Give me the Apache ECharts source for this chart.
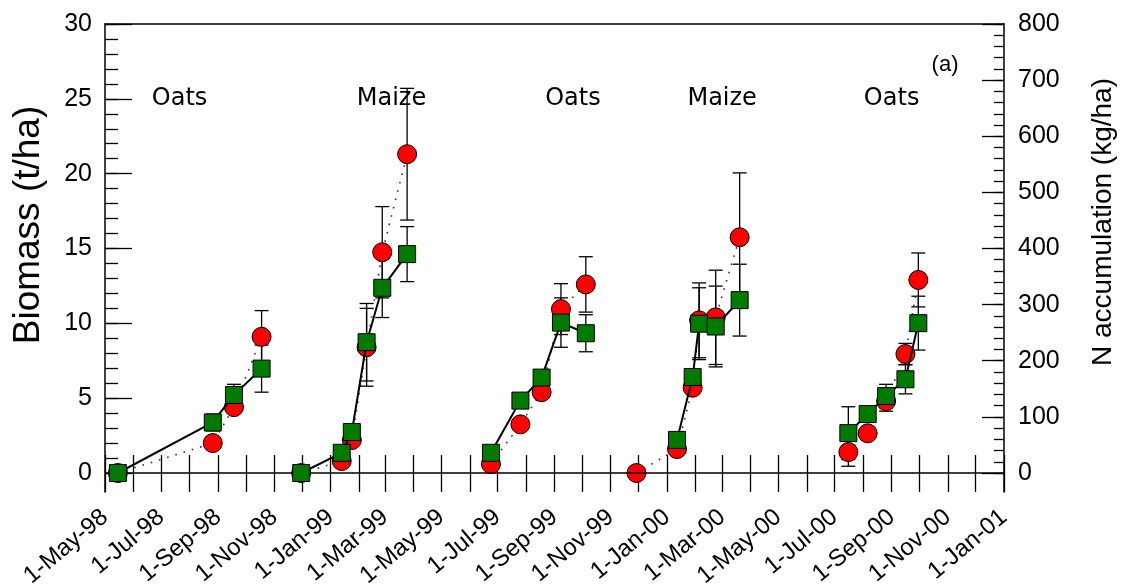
<!DOCTYPE html>
<html>
<head>
<meta charset="utf-8">
<script src="https://cdn.jsdelivr.net/npm/echarts@6/dist/echarts.min.js"></script>
<style>html,body{margin:0;padding:0;background:#fff;}#c{width:1123px;height:586px;}</style>
</head>
<body>
<div id="c"></div>
<script>
// ---- data ----
const seasons = ['Oats 98', 'Maize 98/99', 'Oats 99', 'Maize 99/00', 'Oats 00'];
// sampling dates per season
const datesS1 = ['1998-05-15', '1998-08-26', '1998-09-18', '1998-10-18'];
const datesS2 = ['1998-11-30', '1999-01-13', '1999-01-24', '1999-02-09', '1999-02-26', '1999-03-25'];
const datesS3 = ['1999-06-24', '1999-07-26', '1999-08-18', '1999-09-08', '1999-10-05'];
const datesS4 = ['1999-11-29', '2000-01-12', '2000-01-29', '2000-02-05', '2000-02-23', '2000-03-20'];
const datesS5 = ['2000-07-16', '2000-08-06', '2000-08-26', '2000-09-16', '2000-09-30'];
// Biomass (t/ha), red circles
const biomassS1 = [0, 2.0, 4.4, 9.1];
const biomassS2 = [0, 0.8, 2.2, 8.4, 14.75, 21.3];
const biomassS3 = [0.6, 3.25, 5.4, 10.95, 12.6];
const biomassS4 = [0, 1.6, 5.7, 10.2, 10.4, 15.75];
const biomassS5 = [1.4, 2.65, 4.8, 7.95, 12.9];
const biomassErrS1 = [0, 0, 0, 1.75];
const biomassErrS2 = [0, 0, 0, 2.6, 3.05, 4.4];
const biomassErrS3 = [0, 0, 0, 1.7, 1.85];
const biomassErrS4 = [0, 0, 0, 2.5, 3.15, 4.3];
const biomassErrS5 = [0.95, 0, 0.67, 0.71, 1.8];
// N accumulation (kg/ha), green squares (null = no sample)
const nAccS1 = [0, 90, 139, 186];
const nAccS2 = [0, 36, 73, 233, 330, 390];
const nAccS3 = [36, 129, 170, 268, 249];
const nAccS4 = [null, 59, 171, 266, 261, 308];
const nAccS5 = [71, 105, 137, 167, 267];
const nAccErrS1 = [0, 15, 19, 42];
const nAccErrS2 = [0, 0, 0, 69, 53, 49];
const nAccErrS3 = [0, 0, 0, 44, 33];
const nAccErrS4 = [0, 0, 0, 64, 72, 64];
const nAccErrS5 = [47, 0, 21, 26, 48];
// crop annotations
const cropNames = ['Oats', 'Maize', 'Oats', 'Maize', 'Oats'];
const cropLabelDates = ['1998-07-21', '1999-03-08', '1999-09-21', '2000-03-01', '2000-09-01'];
const cropLabelY = 25;
const panelLabel = '(a)';
const panelLabelDate = '2000-10-29';
const panelLabelY = 27.25;
// axes
const xMinDate = '1998-05-01';
const xMaxDate = '2001-01-01';
const xTickLabels = ['1-May-98','1-Jul-98','1-Sep-98','1-Nov-98','1-Jan-99','1-Mar-99','1-May-99','1-Jul-99','1-Sep-99','1-Nov-99','1-Jan-00','1-Mar-00','1-May-00','1-Jul-00','1-Sep-00','1-Nov-00','1-Jan-01'];
const leftTicks = [0, 5, 10, 15, 20, 25, 30];
const rightTicks = [0, 100, 200, 300, 400, 500, 600, 700, 800];

// ---- helpers ----
const MON = ['Jan','Feb','Mar','Apr','May','Jun','Jul','Aug','Sep','Oct','Nov','Dec'];
function ts(s) { const p = s.split('-').map(Number); return Date.UTC(p[0], p[1] - 1, p[2]); }
function fmt(v) { const d = new Date(v); return d.getUTCDate() + '-' + MON[d.getUTCMonth()] + '-' + String(d.getUTCFullYear()).slice(2); }
function parseLabel(l) {
  const p = l.split('-'); const m = MON.indexOf(p[1]); const yy = Number(p[2]);
  return Date.UTC(yy < 50 ? 2000 + yy : 1900 + yy, m, Number(p[0]));
}
const xMin = ts(xMinDate), xMax = ts(xMaxDate);
const labelValues = xTickLabels.map(parseLabel);
const monthTicks = [];
{ let d = new Date(xMin); while (d.getTime() <= xMax) { monthTicks.push(d.getTime()); d = new Date(Date.UTC(d.getUTCFullYear(), d.getUTCMonth() + 1, 1)); } }
const leftMinor = []; for (let v = 0; v <= 30; v += 1) leftMinor.push(v);
const rightMinor = []; for (let v = 0; v <= 800; v += 20) rightMinor.push(v);

const LMIN = -1.27, LMAX = 30;
const RMIN = LMIN * 800 / 30, RMAX = 800;

const allDates = [datesS1, datesS2, datesS3, datesS4, datesS5];
const allBio = [biomassS1, biomassS2, biomassS3, biomassS4, biomassS5];
const allBioErr = [biomassErrS1, biomassErrS2, biomassErrS3, biomassErrS4, biomassErrS5];
const allN = [nAccS1, nAccS2, nAccS3, nAccS4, nAccS5];
const allNErr = [nAccErrS1, nAccErrS2, nAccErrS3, nAccErrS4, nAccErrS5];

function errRender(params, api) {
  const x = api.value(0), lo = api.value(1), hi = api.value(2);
  const a = api.coord([x, hi]), b = api.coord([x, lo]);
  const w = 7, st = { stroke: '#000', lineWidth: 1.3 };
  return { type: 'group', children: [
    { type: 'line', shape: { x1: a[0], y1: a[1], x2: b[0], y2: b[1] }, style: st },
    { type: 'line', shape: { x1: a[0] - w, y1: a[1], x2: a[0] + w, y2: a[1] }, style: st },
    { type: 'line', shape: { x1: b[0] - w, y1: b[1], x2: b[0] + w, y2: b[1] }, style: st }
  ] };
}

const series = [];
const bioErrData = [], nErrData = [];
allDates.forEach((ds, i) => {
  const xs = ds.map(ts);
  const bio = xs.map((x, j) => [x, allBio[i][j]]);
  const nn = xs.map((x, j) => allN[i][j] == null ? null : [x, allN[i][j]]).filter(Boolean);
  xs.forEach((x, j) => {
    const e = allBioErr[i][j]; if (e > 0) bioErrData.push([x, allBio[i][j] - e, allBio[i][j] + e]);
    const en = allNErr[i][j]; if (en > 0 && allN[i][j] != null) nErrData.push([x, allN[i][j] - en, allN[i][j] + en]);
  });
  series.push({
    name: 'Biomass ' + seasons[i], type: 'line', xAxisIndex: 0, yAxisIndex: 0, data: bio,
    symbol: 'circle', symbolSize: 19, z: 3,
    itemStyle: { color: '#ff0000', borderColor: '#000', borderWidth: 1 },
    lineStyle: { color: '#333', width: 1.6, type: [1.6, 7] }
  });
  series.push({
    name: 'N ' + seasons[i], type: 'line', xAxisIndex: 0, yAxisIndex: 1, data: nn,
    symbol: 'rect', symbolSize: 17, z: 5,
    itemStyle: { color: '#007a00', borderColor: '#000', borderWidth: 1 },
    lineStyle: { color: '#000', width: 2, type: 'solid' }
  });
});
series.unshift({
  name: 'Biomass err', type: 'custom', xAxisIndex: 0, yAxisIndex: 0, data: bioErrData,
  encode: { x: 0, y: [1, 2] }, renderItem: errRender, z: 1, silent: true
});
series.unshift({
  name: 'N err', type: 'custom', xAxisIndex: 0, yAxisIndex: 1, data: nErrData,
  encode: { x: 0, y: [1, 2] }, renderItem: errRender, z: 1, silent: true
});
// zero line + crop labels
series.push({
  name: 'crops', type: 'scatter', xAxisIndex: 0, yAxisIndex: 0, symbolSize: 0, z: 6, silent: true,
  itemStyle: { opacity: 1 },
  data: cropNames.map((n, i) => ({ value: [ts(cropLabelDates[i]), cropLabelY], name: n })),
  label: { show: true, position: [0, 0], align: 'center', verticalAlign: 'middle', formatter: p => p.name,
    fontFamily: 'DejaVu Sans', fontSize: 24, color: '#000', textBorderWidth: 0, opacity: 1 },
  markLine: { silent: true, symbol: ['none', 'none'], label: { show: false },
    lineStyle: { color: '#000', width: 1.5, type: 'solid', opacity: 1 }, data: [{ yAxis: 0 }] }
});
series.push({
  name: 'panel', type: 'scatter', xAxisIndex: 0, yAxisIndex: 0, symbolSize: 0, z: 6, silent: true,
  itemStyle: { opacity: 1 },
  data: [{ value: [ts(panelLabelDate), panelLabelY], name: panelLabel }],
  label: { show: true, position: [0, 0], align: 'center', verticalAlign: 'middle', formatter: p => p.name,
    fontFamily: 'Liberation Sans', fontSize: 22, color: '#000', textBorderWidth: 0, opacity: 1 }
});

const axisLine = { show: true, onZero: false, lineStyle: { color: '#000', width: 1.5 } };
const option = {
  animation: false,
  backgroundColor: '#fff',
  grid: { left: 105, right: 119, top: 24, bottom: 94, containLabel: false, outerBoundsMode: 'none' },
  xAxis: [
    { type: 'value', min: xMin, max: xMax, position: 'bottom',
      axisLine: { show: false, onZero: false },
      axisTick: { show: true, inside: true, length: 37, customValues: monthTicks, lineStyle: { color: '#000', width: 1.3 } },
      axisLabel: { show: true, customValues: labelValues, formatter: v => fmt(v), rotate: 40, margin: 22,
        fontFamily: 'Liberation Sans', fontSize: 24, color: '#000' },
      splitLine: { show: false } },
    { type: 'value', min: xMin, max: xMax, position: 'top',
      axisLine: axisLine, axisTick: { show: false }, axisLabel: { show: false }, splitLine: { show: false } }
  ],
  yAxis: [
    { type: 'value', min: LMIN, max: LMAX, position: 'left',
      axisLine: axisLine,
      axisTick: { show: true, inside: true, length: 27, customValues: leftTicks, lineStyle: { color: '#000', width: 1.3 } },
      axisLabel: { show: true, customValues: leftTicks, margin: 13, fontFamily: 'Liberation Sans', fontSize: 25, color: '#000' },
      splitLine: { show: false } },
    { type: 'value', min: RMIN, max: RMAX, position: 'right',
      axisLine: axisLine,
      axisTick: { show: true, inside: true, length: 22, customValues: rightTicks, lineStyle: { color: '#000', width: 1.3 } },
      axisLabel: { show: true, customValues: rightTicks, margin: 14, fontFamily: 'Liberation Sans', fontSize: 25, color: '#000' },
      splitLine: { show: false } },
    { type: 'value', min: LMIN, max: LMAX, position: 'left',
      axisLine: { show: false, onZero: false },
      axisTick: { show: true, inside: true, length: 13, customValues: leftMinor, lineStyle: { color: '#000', width: 1.3 } },
      axisLabel: { show: false }, splitLine: { show: false } },
    { type: 'value', min: RMIN, max: RMAX, position: 'right',
      axisLine: { show: false, onZero: false },
      axisTick: { show: true, inside: true, length: 10, customValues: rightMinor, lineStyle: { color: '#000', width: 1.3 } },
      axisLabel: { show: false }, splitLine: { show: false } }
  ],
  graphic: [
    { type: 'text', x: 29, y: 225, rotation: Math.PI / 2,
      style: { text: 'Biomass (t/ha)', fontFamily: 'Liberation Sans', fontSize: 37, fill: '#000', align: 'center', verticalAlign: 'middle' } },
    { type: 'text', x: 1103, y: 222, rotation: Math.PI / 2,
      style: { text: 'N accumulation (kg/ha)', fontFamily: 'Liberation Sans', fontSize: 28, fill: '#000', align: 'center', verticalAlign: 'middle' } }
  ],
  series: series
};
const chart = echarts.init(document.getElementById('c'), null, { renderer: 'canvas' });
chart.setOption(option);
</script>
</body>
</html>
